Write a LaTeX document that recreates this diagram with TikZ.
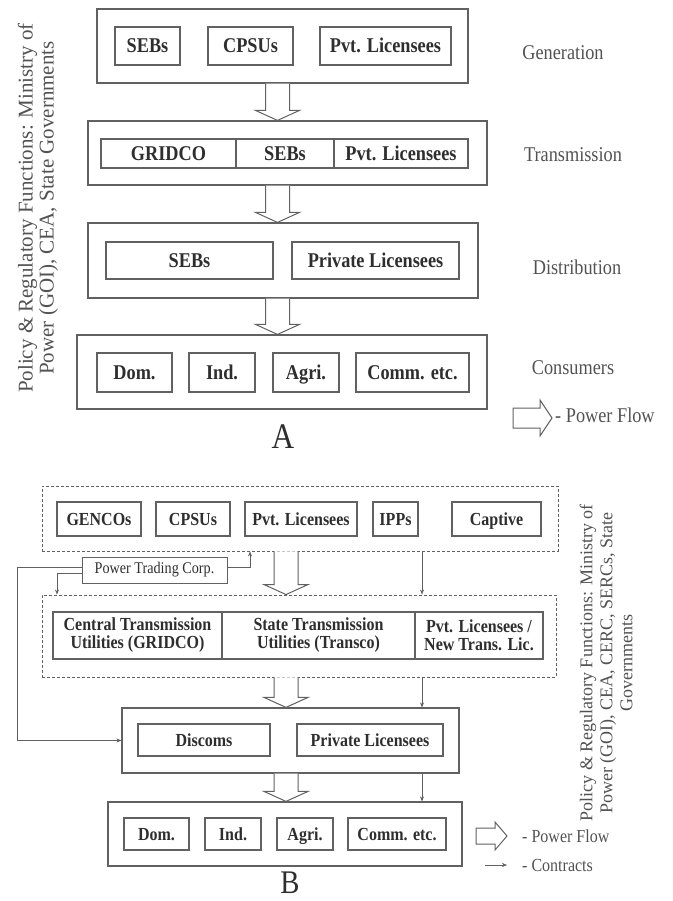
\documentclass[tikz,border=0pt]{standalone}
\usepackage{fontspec}
\setmainfont{Liberation Serif}[FakeStretch=0.87]
\newfontfamily\vertfont{Liberation Serif}
\usetikzlibrary{arrows.meta,calc}
\definecolor{linec}{gray}{0.38}
\definecolor{txtc}{gray}{0.18}
\definecolor{softc}{gray}{0.32}
\tikzset{
  outer/.style 2 args={draw=linec, line width=1.2pt, minimum width=#1pt, minimum height=#2pt, inner sep=0pt},
  dashbox/.style 2 args={outer={#1}{#2}, line width=0.9pt, dash pattern=on 3pt off 2pt},
  base/.style 2 args={draw=linec, line width=1.1pt, minimum width=#1pt, minimum height=#2pt, inner sep=0pt, text=txtc},
  cellA/.style 2 args={base={#1}{#2}, text height=14pt, text depth=0pt,
    font=\fontsize{21}{21}\selectfont\bfseries},
  cellB/.style 2 args={base={#1}{#2}, text height=12.2pt, text depth=0pt,
    font=\fontsize{18.4}{18}\selectfont\bfseries},
  cellT/.style 2 args={base={#1}{#2}, align=center, font=\fontsize{18.4}{18}\selectfont\bfseries},
  stage/.style={text=softc, font=\fontsize{21}{21}\selectfont},
  vtext/.style={text=softc, rotate=90, align=center, inner sep=0pt},
  flow/.style={draw=linec, line width=1pt, fill=white,
    to path={let \p1=(\tikztostart), \p2=(\tikztotarget) in
      (\x1-12pt,\y1) -- (\x1-12pt,\y2+10pt) -- (\x1-22pt,\y2+10pt) -- (\x1,\y2)
      -- (\x1+22pt,\y2+10pt) -- (\x1+12pt,\y2+10pt) -- (\x1+12pt,\y1)}},
  flowh/.style 2 args={draw=linec, line width=1pt, fill=white,
    to path={let \p1=(\tikztostart), \p2=(\tikztotarget) in
      (\x1,\y1+#1) -- (\x2-12pt,\y1+#1) -- (\x2-12pt,\y1+#2) -- (\x2,\y1)
      -- (\x2-12pt,\y1-#2) -- (\x2-12pt,\y1-#1) -- (\x1,\y1-#1) -- cycle}},
  contract/.style={draw=linec, line width=0.6pt, -{Stealth[length=5pt,width=4pt]}},
}

\begin{document}
\begin{tikzpicture}[x=1pt, y=-1pt]
    \useasboundingbox (0,0) rectangle (672,901);

    % ---- A ----
    \node [outer={371}{74}] (genA) at (282.5,46) {};
    \node [cellA={65}{38}] (sebA) at (147.5,46) {SEBs};
    \node [cellA={85}{38}] (cpsuA) at (250.5,46) {CPSUs};
    \node [cellA={131}{38}] (pvtA) at (385.5,46) {Pvt. Licensees};
    \node [stage] (lgenA) at (563,53) {Generation};

    \node [outer={399}{64}] (transA) at (287.5,153) {};
    \node [cellA={135}{29}] (gridA) at (168.5,153.5) {GRIDCO};
    \node [cellA={98}{29}] (sebtA) at (285,153.5) {SEBs};
    \node [cellA={134}{29}] (pvttA) at (401,153.5) {Pvt. Licensees};
    \node [stage] (ltransA) at (573,155) {Transmission};

    \node [outer={390}{75}] (distA) at (283,260.5) {};
    \node [cellA={167}{37}] (sebdA) at (189.5,260.5) {SEBs};
    \node [cellA={167}{37}] (privA) at (375.5,260.5) {Private Licensees};
    \node [stage] (ldistA) at (577,267) {Distribution};

    \node [outer={410}{74}] (consA) at (282,372) {};
    \node [cellA={75}{39}] (domA) at (134.5,372.5) {Dom.};
    \node [cellA={66}{39}] (indA) at (222,372.5) {Ind.};
    \node [cellA={66}{39}] (agriA) at (306,372.5) {Agri.};
    \node [cellA={113}{39}] (commA) at (412.5,372.5) {Comm. etc.};
    \node [stage] (lconsA) at (573,368) {Consumers};

    \node [vtext, font=\vertfont\fontsize{21}{21}\selectfont] (polA) at (38,208)
      {Policy \& Regulatory Functions: Ministry of\\Power (GOI), CEA, State Governments};

    % power flow
    \coordinate (axA) at (277.5,0);
    \draw [flow] (genA.south -| axA) to (transA.north -| axA);
    \draw [flow] (transA.south -| axA) to (distA.north -| axA);
    \draw [flow] (distA.south -| axA) to (consA.north -| axA);

    % legend
    \coordinate (legA) at (513,418);
    \coordinate (legAe) at (552,418);
    \draw [flowh={10pt}{18pt}] (legA) to (legAe);
    \node [stage, anchor=west, inner sep=0pt] (lpfA) at (555,415) {- Power Flow};
    \node [font=\fontsize{36}{36}\selectfont, text=txtc] (titA) at (283,437) {A};

    % ---- B ----
    \node [dashbox={516}{65}] (genB) at (300,518.5) {};
    \node [cellB={84}{34}] (gencoB) at (99,519) {GENCOs};
    \node [cellB={74}{34}] (cpsuB) at (193,519) {CPSUs};
    \node [cellB={112}{34}] (pvtB) at (301,519) {Pvt. Licensees};
    \node [cellB={45}{34}] (ippB) at (395.5,519) {IPPs};
    \node [cellB={89}{34}] (captB) at (496.5,519) {Captive};

    \node [draw=linec, line width=1pt, minimum width=145pt, minimum height=26pt, inner sep=0pt,
      text=txtc, font=\fontsize{16.3}{16}\selectfont] (ptcB) at (154.5,570) {Power Trading Corp.};

    \node [dashbox={514}{82}] (transB) at (299,636) {};
    \node [cellT={169}{47}] (ctuB) at (137.5,635.5) {Central Transmission\\Utilities (GRIDCO)};
    \node [cellT={193}{47}] (stuB) at (318.5,635.5) {State Transmission\\Utilities (Transco)};
    \node [cellT={128}{47}] (pvttB) at (479,635.5) {Pvt. Licensees /\\New Trans. Lic.};

    \node [outer={337}{65}] (distB) at (290.5,740.5) {};
    \node [cellB={132}{32}] (discB) at (204,740) {Discoms};
    \node [cellB={146}{32}] (privB) at (370,740) {Private Licensees};

    \node [outer={354}{64}] (consB) at (285,834) {};
    \node [cellB={65}{32}] (domB) at (156.5,834) {Dom.};
    \node [cellB={56}{32}] (indB) at (233,834) {Ind.};
    \node [cellB={56}{32}] (agriB) at (305,834) {Agri.};
    \node [cellB={98}{32}] (commB) at (397,834) {Comm. etc.};

    \node [vtext, font=\vertfont\fontsize{18}{20}\selectfont] (polB) at (606,663)
      {Policy \& Regulatory Functions: Ministry of\\Power (GOI), CEA, CERC, SERCs, State\\Governments};

    % power flow
    \coordinate (axB) at (286,0);
    \draw [flow] (genB.south -| axB) to (transB.north -| axB);
    \draw [flow] (transB.south -| axB) to (distB.north -| axB);
    \draw [flow] (distB.south -| axB) to (consB.north -| axB);

    % contracts
    \coordinate (cxB) at (422,0);
    \coordinate (cl) at (17,0);
    \coordinate (cl2) at (57,0);
    \coordinate (cptc) at (250,0);
    \draw [contract] (genB.south -| cxB) -- (transB.north -| cxB);
    \draw [contract] (transB.south -| cxB) -- (distB.north -| cxB);
    \draw [contract] (distB.south -| cxB) -- (consB.north -| cxB);
    \draw [contract] ([yshift=3pt]ptcB.east) -| (genB.south -| cptc);
    \draw [contract] ([yshift=-3pt]ptcB.west) -| (transB.north -| cl2);
    \draw [contract] ([yshift=3pt]ptcB.west) -- ([yshift=3pt]ptcB.west -| cl) |- (distB.west);

    % legend
    \coordinate (legB) at (476,836);
    \coordinate (legBe) at (507,836);
    \coordinate (legC) at (485,865);
    \coordinate (legCe) at (507,865);
    \draw [flowh={8pt}{14pt}] (legB) to (legBe);
    \draw [contract] (legC) -- (legCe);
    \node [stage, anchor=west, inner sep=0pt, font=\fontsize{18.4}{18}\selectfont] (lpfB) at (522,836) {- Power Flow};
    \node [stage, anchor=west, inner sep=0pt, font=\fontsize{18.4}{18}\selectfont] (lctB) at (522,865) {- Contracts};
    \node [font=\fontsize{33}{33}\selectfont, text=txtc, inner sep=0pt] (titB) at (290,883) {B};
\end{tikzpicture}
\end{document}
